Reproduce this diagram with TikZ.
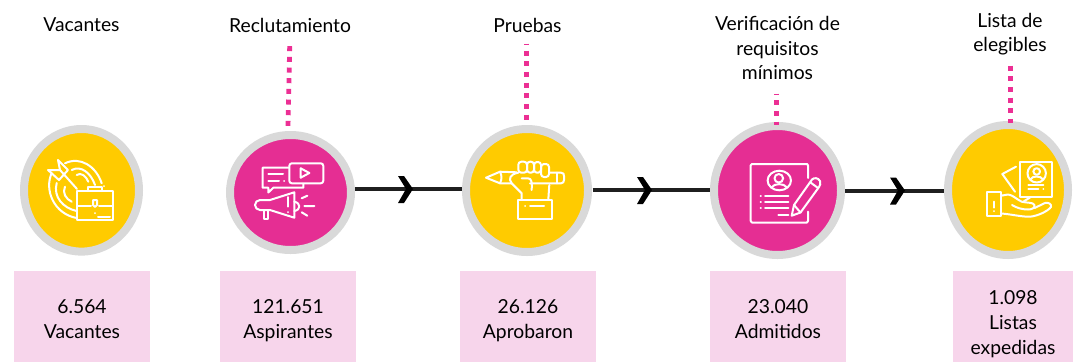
\documentclass[tikz,border=0pt]{standalone}
\usepackage{fontspec}
\usetikzlibrary{shapes.geometric}
\setmainfont{Lato}
\definecolor{mypink}{HTML}{E52E93}
\definecolor{dotpink}{HTML}{EC2F94}
\definecolor{myyellow}{HTML}{FFCB00}
\definecolor{myring}{HTML}{D9D9D9}
\definecolor{boxpink}{HTML}{F7D5EB}
\definecolor{myline}{HTML}{1F1F1F}
\newcommand{\lowa}[1]{\raisebox{-3pt}[\height][0pt]{#1}}
\newcommand{\lowb}[1]{\raisebox{-6.5pt}[\height][0pt]{#1}}
\tikzset{
 x=1pt,y=-1pt,
 disc/.style 2 args={ellipse,draw=myring,line width=8pt,minimum width=#1,minimum height=#2,inner sep=0pt},
 statbox/.style={fill=boxpink,draw=none,inner sep=0pt,align=center,font=\fontsize{19.3}{25}\selectfont},
 heading/.style={align=center,font=\fontsize{19.3}{24.5}\selectfont,inner sep=0pt},
 dots/.style={draw=dotpink,line width=4.8pt,dash pattern=on 5pt off 5.67pt},
 link/.style={draw=myline,line width=4pt},
 chev/.style={fill=black,draw=none},
 ico/.style={draw=white,line width=2pt,line join=round,line cap=round,fill=none},
}
\begin{document}
\begin{tikzpicture}
\useasboundingbox (0,0) rectangle (1073,362);
% discs
\node[disc={115pt}{122.6pt},fill=myyellow] (c1) at (81.5,190.3) {};
\node[disc={121pt}{115pt},fill=mypink] (c2) at (290.5,192.5) {};
\node[disc={122pt}{123pt},fill=myyellow] (c3) at (527,190.5) {};
\node[disc={127pt}{129pt},fill=mypink] (c4) at (777.5,190.5) {};
\node[disc={120pt}{130pt},fill=myyellow] (c5) at (1008,190) {};
% connectors
\coordinate (l2) at (355,189);
\coordinate (l3) at (592.5,189.8);
\coordinate (l4) at (845,190.7);
\draw[link] (l2) -- (c3.west |- l2);
\draw[link] (l3) -- (c4.west |- l3);
\draw[link] (l4) -- (c5.west |- l4);
\foreach \x/\y in {405/189,644/190,897/190.5}{
 \fill[chev] (\x-7,\y-13) -- (\x-1,\y-13) -- (\x+8,\y) -- (\x-1,\y+14) -- (\x-7,\y+14) -- (\x+1,\y) -- cycle;
}
% headings
\node[heading] (h1) at (81.5,25) {Vacantes};
\node[heading] (h2) at (290,25) {Reclutamiento};
\node[heading] (h3) at (527.5,25) {Pruebas};
\node[heading] (h4) at (777.5,48) {Verificación de\\requisitos\\mínimos};
\node[heading] (h5) at (1010,34) {Lista de\\elegibles};
% dotted
\coordinate (d2) at (289.7,46.2);
\coordinate (d2e) at (288,126);
\coordinate (d3) at (526.3,43.5);
\coordinate (d3e) at (526.3,119.5);
\coordinate (d4) at (776.5,93.5);
\coordinate (d4e) at (776.5,125);
\coordinate (d5) at (1010.3,65.5);
\coordinate (d5e) at (1010.3,123);
\draw[dots] (d2) -- (d2e);
\draw[dots,dash phase=3.6pt] (d3) -- (d3e);
\draw[dots,dash phase=4pt] (d4) -- (d4e);
\draw[dots] (d5) -- (d5e);
% boxes
\node[statbox,minimum width=136pt,minimum height=91pt] (b1) at (82,316.5) {\lowa{6.564}\\\lowa{Vacantes}};
\node[statbox,minimum width=136pt,minimum height=91pt] (b2) at (288,316.5) {\lowa{121.651}\\\lowa{Aspirantes}};
\node[statbox,minimum width=136pt,minimum height=91pt] (b3) at (528,316.5) {\lowa{26.126}\\\lowa{Aprobaron}};
\node[statbox,minimum width=136pt,minimum height=91pt] (b4) at (778,316.5) {\lowa{23.040}\\\lowa{Admitidos}};
\node[statbox,minimum width=120pt,minimum height=91pt] (b5) at (1013,316.5) {\lowb{1.098}\\\lowb{Listas}\\\lowb{expedidas}};
% icon 1: target and briefcase
\begin{scope}[ico]
 \draw (65,163.3) .. controls (80,156) and (96,166) .. (101.7,183.3);
 \draw (104,186) -- (104,186.1);
 \draw (71.7,170) .. controls (81,165) and (91,173) .. (95,185);
 \draw (76.7,175) .. controls (81,172) and (86,176) .. (88.3,181.7);
 \draw (51.7,173) .. controls (44,190) and (54,214) .. (76.7,218);
 \draw (56.7,183) .. controls (53,197) and (63,208) .. (76.7,211);
 \draw (65,186.7) .. controls (62,193) and (66,199) .. (71.7,201.7);
 \draw (60,170) -- (77,189);
 \draw (58,160) -- (68,170) -- (59,180) -- (48,170) -- (60,170) -- cycle;
 \draw (77.3,191) rectangle (113,220);
 \draw (77.3,206) -- (91,206) (99,206) -- (113,206);
 \draw (88,191) -- (88,187) -- (102,187) -- (102,191);
 \draw (93,200) -- (97,200) -- (97,205) -- (95,207) -- (93,205) -- cycle;
 \draw (95,213) -- (95,213.1) (98,217) -- (110,217);
\end{scope}
% icon 2: speech and megaphone
\begin{scope}[ico]
 \draw (289,167.7) -- (262.7,167.7) -- (262.7,187.7) -- (268.3,187.7) -- (268.3,192.5) -- (273.3,187.7) -- (303.3,187.7) -- (303.3,184);
 \draw (268.3,173.5) -- (283,173.5) (268.3,180.7) -- (279,180.7) (284,180.7) -- (284.1,180.7);
 \draw[rounded corners=2.5pt] (289.3,163.3) rectangle (323.3,183.3);
 \draw (300.7,168.3) -- (300.7,177.7) -- (309.3,173) -- cycle;
 \draw (270,200) -- (294.3,192.3) -- (294.3,217.7) -- (270,210);
 \draw (270,200) -- (260,200) arc[start angle=-90,end angle=-270,radius=5] -- (270,210);
 \draw (264,210) -- (264,219) -- (268.3,219) -- (268.3,210);
 \draw (287.5,197) -- (287.5,206.7) (287.5,212) -- (287.5,212.1);
 \draw (294.3,201.7) .. controls (301,203) and (301,210) .. (294.3,211);
 \draw (301.7,198.3) -- (307.3,195.7) (304.3,206) -- (314.3,206) (301.7,212.3) -- (307.3,215.7);
\end{scope}
% icon 3: fist with pencil
\begin{scope}[ico]
 \draw (516.7,172.3) -- (500,171.7) -- (486,177.7) -- (500,183.3) -- (511.7,183.3);
 \draw (500,171.7) .. controls (502,176) and (502,179) .. (500,183.3);
 \draw (549,172.7) -- (561,172.7) .. controls (563.5,172.7) and (564,174) .. (564,176) -- (564,180) .. controls (564,182) and (563,183.3) .. (561,183.3) -- (530,183.3);
 \draw (557.3,172.7) -- (557.3,183.3);
 \draw[rounded corners=3pt] (518.3,172.7) rectangle (527,161.7);
 \draw[rounded corners=3pt] (527,172.7) rectangle (534,161.7);
 \draw[rounded corners=3pt] (534,172.7) rectangle (541,162);
 \draw[rounded corners=3pt] (541,177) rectangle (549,164);
 \draw (518.3,172.7) .. controls (510,174) and (508,179) .. (511.7,183.3) -- (521.7,193.3) -- (521.7,199.3);
 \draw (521.7,178.3) -- (528,178.3) .. controls (532,178.5) and (532,183) .. (531.7,190);
 \draw (549.3,185) -- (548.3,199.3);
 \draw (518.3,200) rectangle (551.7,219.3);
 \draw (525,206) -- (525.1,206) (530,206) -- (544,206);
\end{scope}
% icon 4: document and pencil
\begin{scope}[ico]
 \draw (808,178) -- (808,165.3) -- (807,164) -- (752,164) -- (750.7,165.3) -- (750.7,221) -- (752,222.5) -- (807,222.5) -- (808,221) -- (808,211.7);
 \draw (779.3,180.5) ellipse[x radius=11.7,y radius=9.8];
 \draw (778.8,178.3) circle[radius=4.3];
 \draw (771.5,187.5) .. controls (774,183) and (784,183) .. (787,187.5);
 \draw (765,195.7) -- (788.3,195.7) (765,202.3) -- (788.3,202.3) (765,208.3) -- (788.3,208.3) (778.3,215) -- (788.3,215);
 \draw (760.7,195.7) -- (760.8,195.7) (760.7,202.3) -- (760.8,202.3) (760.7,208.3) -- (760.8,208.3);
 \draw (791.7,215.7) -- (794,205) -- (812,179.5) .. controls (814,177.5) and (818,177.5) .. (820,181) .. controls (821,184) and (820,185) .. (819,187) -- (800.5,212.5) -- cycle;
 \draw (810.5,182.5) -- (818,188);
 \draw (794,205) -- (800.5,212.5);
\end{scope}
% icon 5: hand holding cards
\begin{scope}[ico]
 \draw (1020.3,162) rectangle (1052,196.5);
 \draw (1036.7,173.3) circle[radius=9.2];
 \draw (1036.7,171.5) circle[radius=3.3];
 \draw (1030.5,179.5) .. controls (1032,175.5) and (1041,175.5) .. (1043,179.5);
 \draw (1028.3,185) -- (1043.3,185) (1028.3,189.3) -- (1038.3,189.3) (1043.3,189.3) -- (1043.4,189.3);
 \draw (1016,166.7) -- (1002.3,174) -- (1015,191.7);
 \draw (986.7,191.7) rectangle (1001,216);
 \draw (993.5,201.7) -- (993.5,207.7) (993.5,211) -- (993.5,211.1);
 \draw (1001,195.7) -- (1008,194.5) .. controls (1013,195) and (1016,199) .. (1021.7,201.7) .. controls (1026,203) and (1033,202) .. (1034.5,205) .. controls (1035,208) and (1032,209.5) .. (1028,209.5) .. controls (1022,209.5) and (1017,208) .. (1012,205);
 \draw (1001,213.5) .. controls (1010,214) and (1022,217) .. (1030,216.7) .. controls (1038,216) and (1048,211) .. (1051,207) .. controls (1052,204) and (1048,202) .. (1045,203) -- (1034.5,208);
 \draw (1023.3,201.7) -- (1030,197.5);
\end{scope}
\end{tikzpicture}
\end{document}
